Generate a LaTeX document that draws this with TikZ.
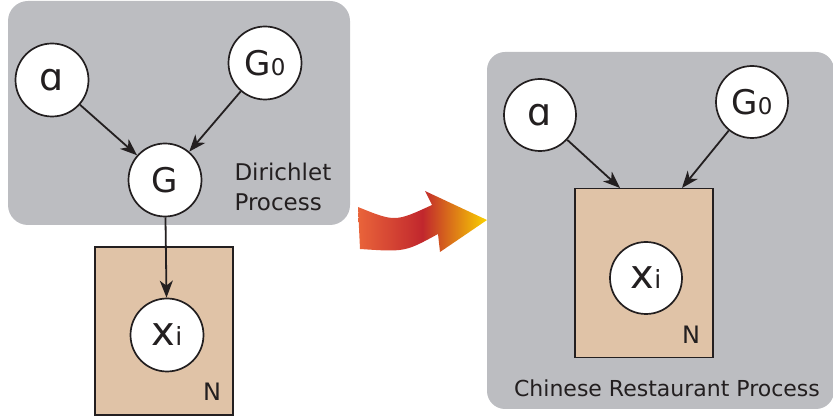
\documentclass[tikz,border=0pt]{standalone}
\usepackage{fontspec}
\setmainfont{DejaVu Sans}
\usepackage{tikz}
\usetikzlibrary{arrows.meta}
\definecolor{pgray}{HTML}{BCBDC1}
\definecolor{ptan}{HTML}{E0C3A7}
\definecolor{ink}{HTML}{231F20}
\definecolor{fred}{HTML}{E9643A}
\definecolor{fcrim}{HTML}{C1272D}
\definecolor{fyel}{HTML}{FAD200}

\begin{document}
\begin{tikzpicture}[x=1pt, y=-1pt,
    panel/.style={fill=pgray, rounded corners=20pt},
    plate/.style={draw=ink, line width=1.6pt, fill=ptan, rectangle, inner sep=0pt},
    var/.style={circle, draw=ink, line width=1.7pt, fill=white, minimum size=73pt, inner sep=0pt, text=ink},
    ar/.style={-{Stealth[length=17pt,width=13pt,inset=5pt]}, line width=1.8pt, draw=ink},
    big/.style={font=\fontsize{38}{38}\selectfont},
    mid/.style={font=\fontsize{34}{34}\selectfont},
    lbl/.style={text=ink, font=\fontsize{23}{30}\selectfont}]
  \useasboundingbox (0,0) rectangle (833,419);

  % Dirichlet process
  \fill[panel] (8,1) rectangle (350,225);
  \node[plate, minimum width=138pt, minimum height=168pt] (platel) at (164,331) {};
  \node[var, big] (al) at (52,80) {ɑ};
  \node[var, mid] (g0l) at (265,63) {G\fontsize{23}{23}\selectfont 0};
  \node[var, mid] (g) at (165,180) {G};
  \node[var] (xl) at (167,335) {\fontsize{40}{40}\selectfont x\fontsize{25}{25}\selectfont i};
  \node[lbl, align=left, anchor=west] (dp) at (231,187) {Dirichlet\\Process};
  \node[lbl, font=\fontsize{24}{24}\selectfont] (nl) at (212,392) {N};
  \draw[ar] (al) -- (g);
  \draw[ar] (g0l) -- (g);
  \draw[ar] (g) -- (xl);

  % shaded arrow between the two models
  \shade[left color=fred, right color=fyel, middle color=fcrim]
    (358,207) .. controls (395,222) .. (432,205) -- (425,191) -- (487,220)
    -- (440,252) -- (438,234) .. controls (405,252) .. (360,249) -- cycle;

  % Chinese restaurant process
  \fill[panel, rounded corners=18pt] (487,52) rectangle (834,409);
  \node[plate, minimum width=138pt, minimum height=169pt] (plater) at (644,273) {};
  \coordinate (ta) at (620,188);
  \coordinate (tg) at (682,188);
  \node[var, big, minimum size=72pt] (alr) at (540,115) {ɑ};
  \node[var, mid, minimum size=72pt] (g0r) at (752,102) {G\fontsize{23}{23}\selectfont 0};
  \node[var, minimum size=72pt] (xr) at (646,278) {\fontsize{40}{40}\selectfont x\fontsize{25}{25}\selectfont i};
  \node[lbl, font=\fontsize{24}{24}\selectfont] (nr) at (691,335) {N};
  \node[lbl, font=\fontsize{22}{22}\selectfont] (crp) at (667,388) {Chinese Restaurant Process};
  \draw[ar] (alr) -- (ta);
  \draw[ar] (g0r) -- (tg);
\end{tikzpicture}
\end{document}
